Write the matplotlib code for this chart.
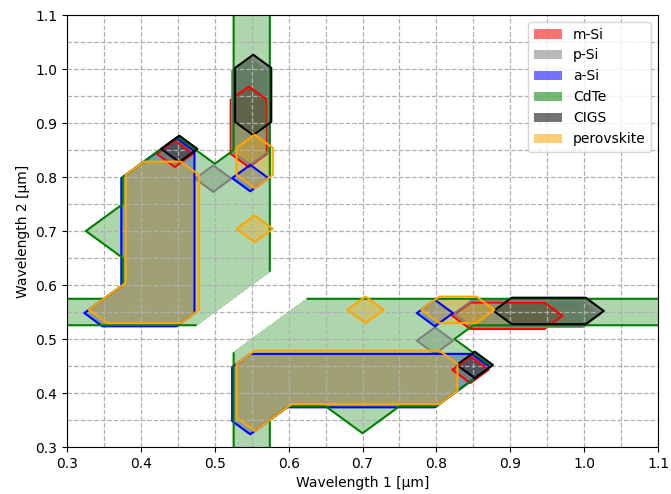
import numpy as np
import matplotlib
matplotlib.use("Agg")
import matplotlib.pyplot as plt
from matplotlib.patches import Patch
from matplotlib.ticker import MultipleLocator

# grid of wavelengths (µm) used for both axes
wavelengths = [0.30, 0.35, 0.40, 0.45, 0.50, 0.55, 0.60, 0.65, 0.70,
               0.75, 0.80, 0.85, 0.90, 0.95, 1.00, 1.05, 1.10]

materials = ["m-Si", "p-Si", "a-Si", "CdTe", "CIGS", "perovskite"]
colors = ["red", "gray", "blue", "green", "black", "orange"]

# suitability maps: rows from wavelength 2 = 1.10 (top) down to 0.30 (bottom),
# columns wavelength 1 = 0.30 ... 1.10 ; 'x' = same wavelength (undefined)
m_si = [
    "0000000000000000x",
    "000000000000000x0",
    "00000000000000x00",
    "0000010000000x000",
    "000001000000x0000",
    "00010100000x00000",
    "0000000000x000000",
    "000000000x0000000",
    "00000000x00000000",
    "0000000x000000000",
    "000000x0000000000",
    "00000x00000111000",
    "0000x000000000000",
    "000x0000000100000",
    "00x00000000000000",
    "0x000000000000000",
    "x0000000000000000",
]
p_si = [
    "0000000000000000x",
    "000000000000000x0",
    "00000100000000x00",
    "0000010000000x000",
    "000001000000x0000",
    "00000100000x00000",
    "0000100000x000000",
    "000000000x0000000",
    "00000000x00000000",
    "0000000x000000000",
    "000000x0000000000",
    "00000x00000111100",
    "0000x000001000000",
    "000x0000000000000",
    "00x00000000000000",
    "0x000000000000000",
    "x0000000000000000",
]
a_si = [
    "0000000000000000x",
    "000000000000000x0",
    "00000000000000x00",
    "0000000000000x000",
    "000000000000x0000",
    "00010000000x00000",
    "0011010000x000000",
    "001100000x0000000",
    "00110000x00000000",
    "0011000x000000000",
    "001100x0000000000",
    "01110x00001000000",
    "0000x000000000000",
    "000x0111111100000",
    "00x00111111000000",
    "0x000100000000000",
    "x0000000000000000",
]
cdte = [
    "0000010000000000x",
    "000001000000000x0",
    "00000100000000x00",
    "0000010000000x000",
    "000001000000x0000",
    "00010100000x00000",
    "0011110000x000000",
    "001111000x0000000",
    "01111100x00000000",
    "0011110x000000000",
    "001111x0000000000",
    "11111x11111111111",
    "0000x111111000000",
    "000x0111111100000",
    "00x00111111000000",
    "0x000100100000000",
    "x0000100000000000",
]
cigs = [
    "0000000000000000x",
    "000000000000000x0",
    "00000100000000x00",
    "0000010000000x000",
    "000001000000x0000",
    "00010000000x00000",
    "0000000000x000000",
    "000000000x0000000",
    "00000000x00000000",
    "0000000x000000000",
    "000000x0000000000",
    "00000x00000011100",
    "0000x000000000000",
    "000x0000000100000",
    "00x00000000000000",
    "0x000000000000000",
    "x0000000000000000",
]
perovskite = [
    "0000000000000000x",
    "000000000000000x0",
    "00000000000000x00",
    "0000000000000x000",
    "000000000000x0000",
    "00000100000x00000",
    "0011010000x000000",
    "001100000x0000000",
    "00110100x00000000",
    "0011000x000000000",
    "001100x0000000000",
    "01110x00101100000",
    "0000x000000000000",
    "000x0111111000000",
    "00x00111111000000",
    "0x000100000000000",
    "x0000000000000000",
]
maps = [m_si, p_si, a_si, cdte, cigs, perovskite]

# small per-material drawing offsets so that coincident outlines stay visible
offsets = [(-0.004, -0.007), (-0.002, -0.003), (-0.002, -0.002),
           (0.0, 0.0), (0.002, 0.002), (0.004, 0.004)]


def to_array(rows):
    arr = np.array([[np.nan if c == "x" else float(c) for c in r] for r in rows])
    return np.ma.masked_invalid(arr[::-1])


fig = plt.figure(figsize=(6.71, 4.94), dpi=100)
ax = fig.add_axes([0.0999, 0.0951, 0.8808, 0.8745])

W = np.array(wavelengths)
X, Y = np.meshgrid(W, W)

for rows, col, (dx, dy) in zip(maps, colors, offsets):
    Z = to_array(rows)
    ax.contourf(X + dx, Y + dy, Z, levels=[0.51, 1.5], colors=[col],
                alpha=0.32, corner_mask=True, zorder=1)
    ax.contour(X + dx, Y + dy, Z, levels=[0.51], colors=[col],
               linewidths=1.5, corner_mask=True, zorder=2)

ax.set_xlim(0.3, 1.1)
ax.set_ylim(0.3, 1.1)
for axis in (ax.xaxis, ax.yaxis):
    axis.set_major_locator(MultipleLocator(0.1))
    axis.set_minor_locator(MultipleLocator(0.05))
ax.tick_params(which="minor", length=0)
ax.grid(which="both", linestyle="--", color="#b0b0b0", linewidth=0.9)

ax.set_xlabel("Wavelength 1 [µm]", fontsize=10)
ax.set_ylabel("Wavelength 2 [µm]", fontsize=10)

handles = [Patch(facecolor=c, alpha=0.55, edgecolor="none", label=m)
           for m, c in zip(materials, colors)]
ax.legend(handles=handles, loc="upper right", fontsize=10)

fig.savefig("out.png", dpi=100)
